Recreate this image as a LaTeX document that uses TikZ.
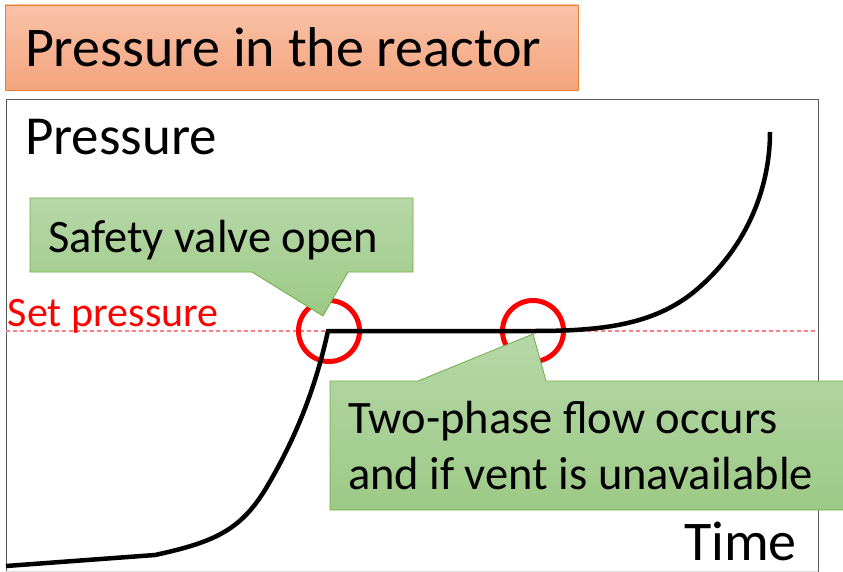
\documentclass[tikz,border=0pt]{standalone}
\usepackage{fontspec}
\setmainfont{Carlito}
\definecolor{orfillT}{HTML}{F8C2A8}
\definecolor{orfillB}{HTML}{F4A47E}
\definecolor{orline}{HTML}{ED7D31}
\definecolor{grfillT}{HTML}{B6D7A8}
\definecolor{grfillB}{HTML}{9DCA86}
\definecolor{grline}{HTML}{70AD47}
\definecolor{frameC}{HTML}{595959}
\definecolor{dashC}{HTML}{FF7F7F}
\begin{document}
\begin{tikzpicture}[x=1pt,y=1pt,
  txt/.style={anchor=base west,inner sep=0pt,outer sep=0pt},
  callout/.style={draw=grline,line width=0.8pt,top color=grfillT,bottom color=grfillB},
  ring/.style={draw=red,line width=5pt},
  curvestyle/.style={line width=4.5pt,black,line join=miter}]
\useasboundingbox (0,0) rectangle (843,-572);
% title box
\path[draw=orline,line width=0.8pt,top color=orfillT,bottom color=orfillB] (5,-5) rectangle (578,-90);
\node[txt,font=\fontsize{56}{64}\selectfont] (title) at (25,-67) {Pressure in the reactor};
% frame
\draw[frameC,line width=1pt] (6,-572) -- (6,-100) -- (818,-100) -- (818,-572);
\draw[black!12,line width=1pt] (6,-571.5) -- (818,-571.5);
% axis labels
\node[txt,font=\fontsize{55}{64}\selectfont] (ylab) at (25,-155) {Pressure};
\node[anchor=base east,inner sep=0pt,font=\fontsize{56}{64}\selectfont] (xlab) at (797,-560) {Time};
% set pressure
\draw[dashC,line width=1.5pt,dash pattern=on 4pt off 3pt] (6,-331) -- (818,-331);
\node[txt,red,font=\fontsize{42}{50}\selectfont] (setp) at (8,-326) {Set pressure};
% rings
\node[circle,ring,minimum size=61pt,inner sep=0pt] (r1) at (329,-331) {};
\node[circle,ring,minimum size=61pt,inner sep=0pt] (r2) at (533,-331) {};
% curve
\draw[curvestyle] (6,-566) -- (155,-555)
  .. controls (215,-542) and (240,-530) .. (265,-490)
  .. controls (295,-440) and (315,-390) .. (328,-331)
  -- (535,-331)
  .. controls (600,-331) and (650,-325) .. (690,-295)
  .. controls (745,-252) and (770,-190) .. (770,-132);
% callout 1
\path[callout] (30,-198) -- (413,-198) -- (413,-272) -- (348,-272) -- (323,-316) -- (252,-272) -- (30,-272) -- cycle;
\node[txt,font=\fontsize{46.5}{54}\selectfont] (c1) at (48,-252) {Safety valve open};
% callout 2
\path[callout] (330,-381) -- (418,-381) -- (533,-334) -- (546,-381) -- (846,-381) -- (846,-510) -- (330,-510) -- cycle;
\node[txt,font=\fontsize{46.5}{54}\selectfont] (c2a) at (348,-433) {Two-phase flow occurs};
\node[txt,font=\fontsize{46.5}{54}\selectfont] (c2b) at (348,-489) {and if vent is unavailable};
\end{tikzpicture}
\end{document}
